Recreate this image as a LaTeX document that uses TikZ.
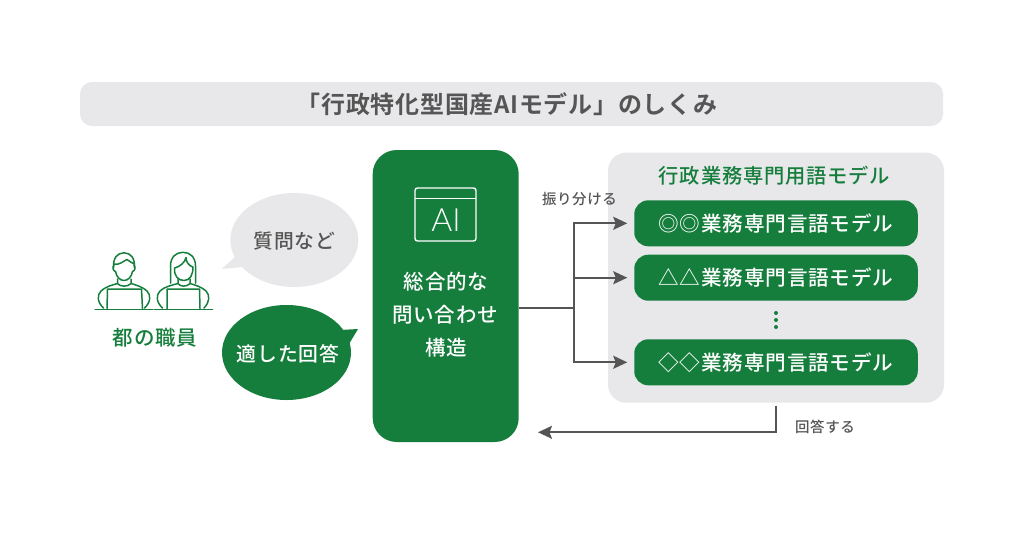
\documentclass[tikz,border=0pt]{standalone}
\usepackage{fontspec}
\usetikzlibrary{arrows.meta,shapes.geometric}
\setmainfont{Noto Sans CJK JP}
\newfontfamily\jpb[LetterSpace=3]{Noto Sans CJK JP Bold}
\newfontfamily\jpm[LetterSpace=4]{Noto Sans CJK JP Medium}
\newfontfamily\thinf{Lato Light}
\definecolor{grn}{HTML}{167E3D}
\definecolor{pale}{HTML}{E8E8EA}
\definecolor{ink}{HTML}{555555}
\tikzset{
  x=1pt,y=-1pt,
  panel/.style={rectangle,rounded corners=#1,inner sep=0pt,outer sep=0pt},
  modelbox/.style={panel=14pt,fill=grn,minimum width=283.5pt,minimum height=46pt,text=white,font=\jpm\fontsize{20.6}{20.6}\selectfont},
  lbl/.style={inner sep=0pt,font=\jpm\fontsize{14.5}{14.5}\selectfont,text=ink},
  big/.style={inner sep=0pt,font=\jpm\fontsize{20.5}{20.5}\selectfont},
  bubble/.style={ellipse,inner sep=0pt,minimum width=#1},
  arrow/.style={draw=ink,line width=1.8pt,-{Stealth[length=14pt,width=13pt,inset=2.5pt]}},
  wire/.style={draw=ink,line width=1.8pt},
  icon/.style={draw=grn,line width=1.5pt,line join=round,line cap=round},
}
\begin{document}
\begin{tikzpicture}
\path[use as bounding box,fill=white] (0,0) rectangle (1024,538);
% title band
\node[panel=12pt,fill=pale,minimum width=863pt,minimum height=44pt] (title) at (511.5,104) {};
\node[inner sep=0pt,text=ink,font=\jpb\fontsize{24}{24}\selectfont] (titleT) at (507,104) {「行政特化型国産AIモデル」のしくみ};
% right panel
\node[panel=18pt,fill=pale,minimum width=336pt,minimum height=250pt] (panelR) at (776,277.7) {};
\node[inner sep=0pt,text=grn,font=\jpm\fontsize{20.3}{20.3}\selectfont] (panelT) at (774.5,175.5) {行政業務専門用語モデル};
\node[modelbox] (m1) at (776,223.3) {◎◎業務専門言語モデル};
\node[modelbox] (m2) at (776,277.7) {△△業務専門言語モデル};
\node[modelbox] (m3) at (776,362.3) {◇◇業務専門言語モデル};
\fill[grn] (776,313) circle (2) (776,320) circle (2) (776,327) circle (2);
% main block
\node[panel=24pt,fill=grn,minimum width=146pt,minimum height=292pt] (main) at (445.7,296) {};
\node[big,text=white] (mainT1) at (446,282) {総合的な};
\node[big,text=white] (mainT2) at (445,314.5) {問い合わせ};
\node[big,text=white] (mainT3) at (446,347.5) {構造};
% AI icon
\node[panel=2.5pt,draw=white,line width=1.4pt,minimum width=61pt,minimum height=53pt] (aiicon) at (445.5,214.5) {};
\draw[white,line width=1.4pt] (aiicon.west |- 0,198.5) -- (aiicon.east |- 0,198.5);
\node[inner sep=0pt,text=white,font=\thinf\fontsize{32}{32}\selectfont] (aitext) at (446,220.5) {AI};
% connectors
\coordinate (hub) at (519,308.3);
\coordinate (fork) at (574,308.3);
\draw[wire] (hub) -- (fork);
\draw[wire,line cap=rect] (fork |- m1.west) -- (fork |- m3.west);
\draw[arrow,shorten >=7pt] (fork |- m1.west) -- (m1.west);
\draw[arrow,shorten >=7pt] (fork |- m2.west) -- (m2.west);
\draw[arrow,shorten >=7pt] (fork |- m3.west) -- (m3.west);
\coordinate (backS) at (776,405.5);
\coordinate (backE) at (538,432.3);
\draw[arrow] (backS) -- (backS |- backE) -- (backE);
\node[lbl] (l1) at (579.5,199) {振り分ける};
\node[lbl] (l2) at (825,427) {回答する};
% bubbles
\fill[pale] (235,257) -- (221.7,269) -- (243,267) -- cycle;
\node[bubble=128pt,fill=pale,minimum height=94pt] (q) at (294.3,240) {};
\node[inner sep=0pt,text=ink,font=\jpm\fontsize{19.8}{19.8}\selectfont] (qT) at (294.3,241) {質問など};
\fill[grn] (340,330) -- (358,329) -- (349,344) -- cycle;
\node[bubble=129pt,fill=grn,minimum height=95pt] (a) at (286.5,352.5) {};
\node[inner sep=0pt,text=white,font=\jpm\fontsize{19.8}{19.8}\selectfont] (aT) at (288,354) {適した回答};
% people
\coordinate (d0) at (95,309.3);
\coordinate (d1) at (153,309.3);
\coordinate (d2) at (154.5,309.3);
\coordinate (d3) at (212.5,309.3);
\draw[icon] (d0) -- (d1);
\draw[icon] (d2) -- (d3);
% man
\begin{scope}
\draw[icon] (113.5,268) .. controls (113,258) and (117,253) .. (124,252.8) .. controls (131,253) and (135,258) .. (134.5,268);
\draw[icon] (113.5,264) .. controls (119,266) and (125,260) .. (127,259.5) .. controls (129,261) and (132,263) .. (134.5,264);
\draw[icon] (114,265) .. controls (112,267) and (113,271) .. (115.5,271.5) .. controls (116.5,277) and (120,280.5) .. (124,280.5) .. controls (128,280.5) and (131.5,277) .. (132.5,271.5) .. controls (135,271) and (136,267) .. (134,265);
\draw[icon] (117.5,279) -- (117.5,283.5) .. controls (120,287) and (128,287) .. (131,283.5) -- (131,279);
\draw[icon] (103.5,308) .. controls (97,302) and (97,295) .. (101,291) .. controls (105,287) and (112,285) .. (117.5,283.5);
\draw[icon] (144.5,308) .. controls (151,302) and (151,295) .. (147,291) .. controls (143,287) and (136,285) .. (131,283.5);
\draw[icon] (107,308.5) -- (107.5,289) -- (141.5,289) -- (142.5,308.5);
\end{scope}
% woman
\begin{scope}
\draw[icon] (170.5,283) -- (170.5,266) .. controls (170.5,257) and (176,252.3) .. (183,252.3) .. controls (190,252.3) and (195.5,257) .. (195.5,266) -- (195.5,283);
\draw[icon] (174.5,268) .. controls (174,276) and (178,280.5) .. (184,280.5) .. controls (190,280.5) and (193,275) .. (193,267) .. controls (189,266) and (186,262) .. (186,257.5) .. controls (185,263) and (179,267) .. (174.5,268);
\draw[icon] (178,279) -- (178,283.5) .. controls (180,287) and (187,287) .. (190,283.5) -- (190,279);
\draw[icon] (162.5,308) .. controls (156,302) and (156,295) .. (160,291) .. controls (164,287) and (172,285) .. (178,283.5);
\draw[icon] (204,308) .. controls (210,302) and (210,295) .. (206,291) .. controls (202,287) and (195,285) .. (190,283.5);
\draw[icon] (167,308.5) -- (167,289) -- (199.5,289) -- (200,308.5);
\end{scope}
\node[inner sep=0pt,text=grn,font=\jpm\fontsize{20.5}{20.5}\selectfont] (staff) at (155,337.5) {都の職員};
\end{tikzpicture}
\end{document}
